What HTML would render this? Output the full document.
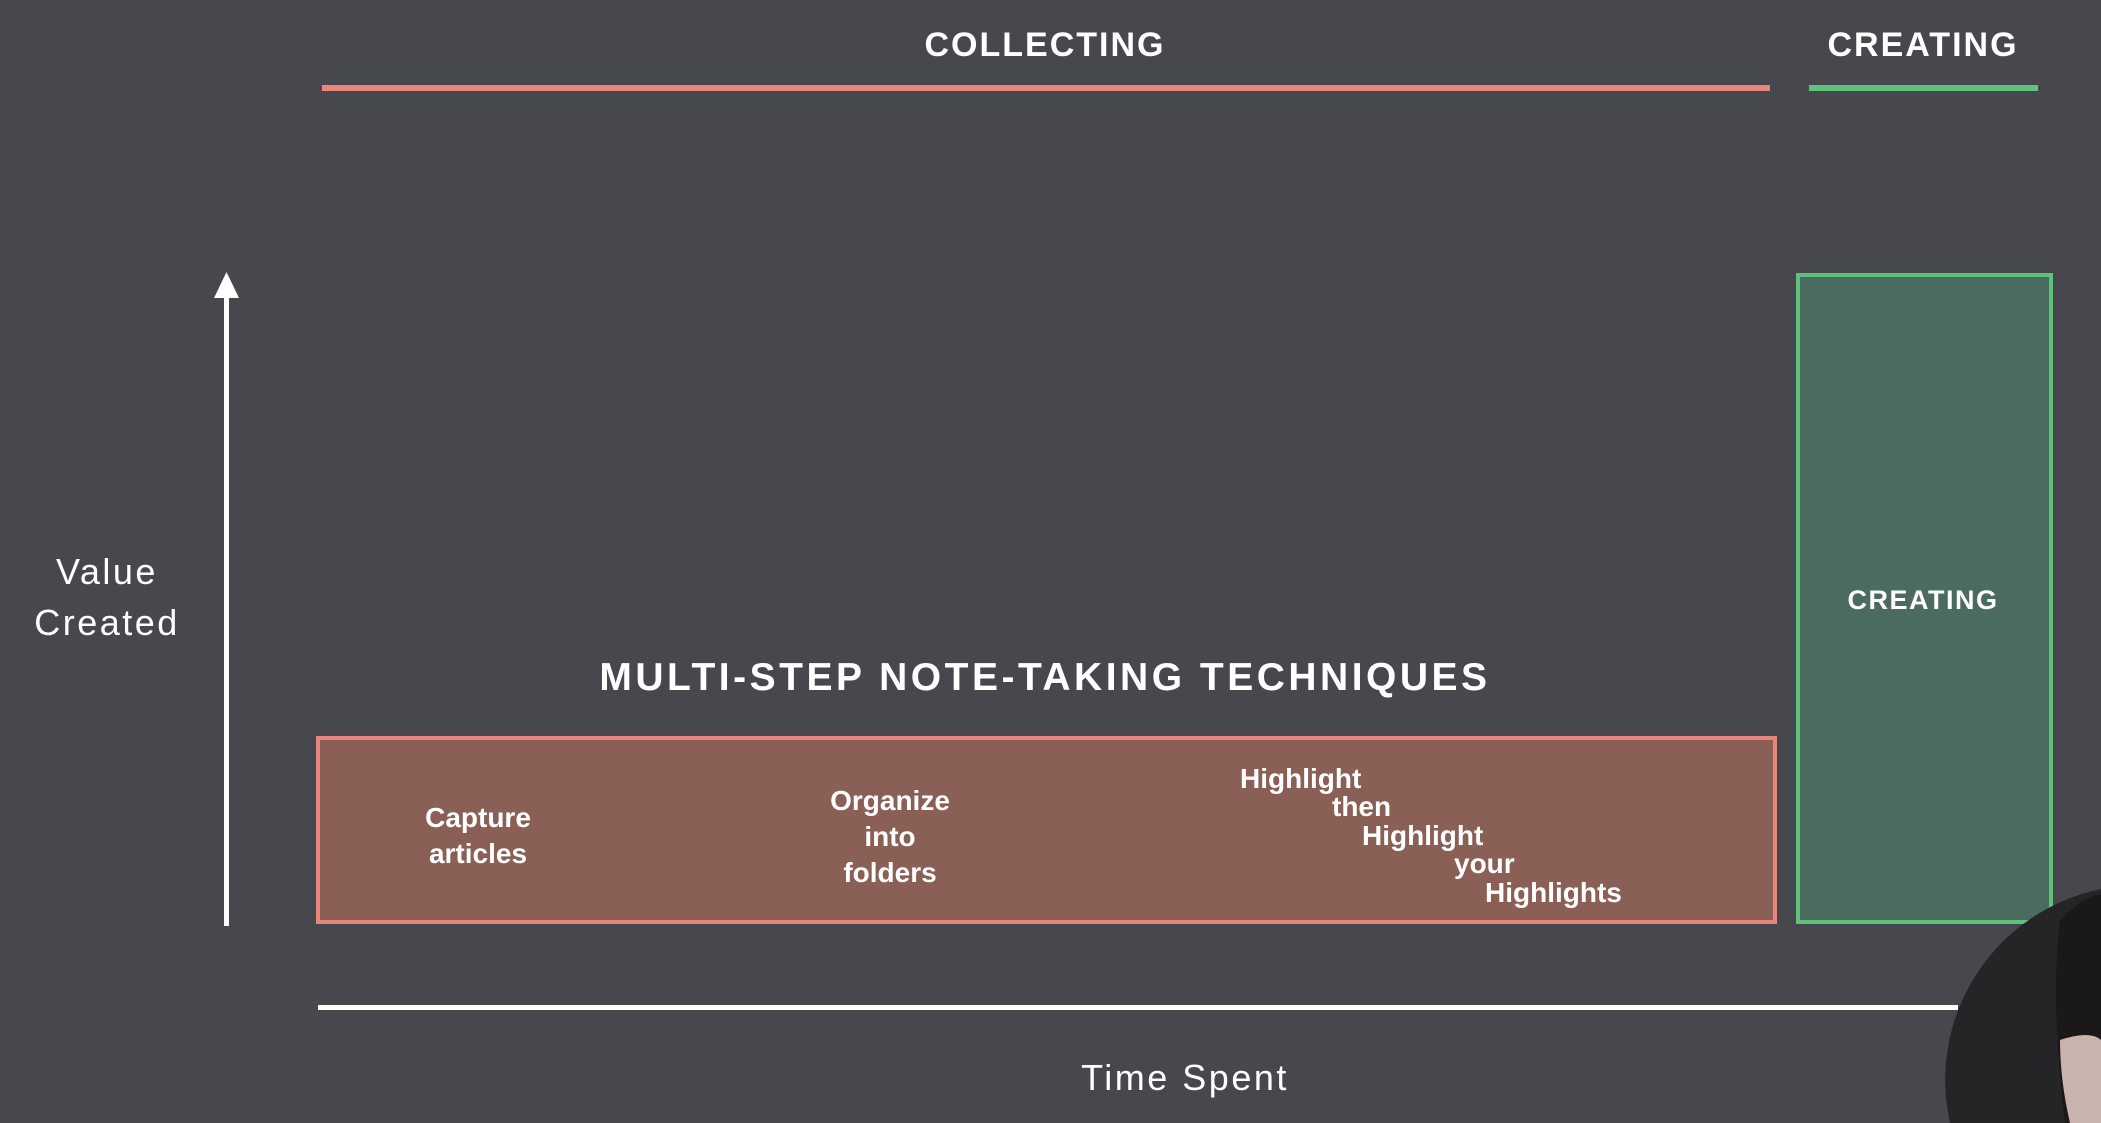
<!DOCTYPE html>
<html><head><meta charset="utf-8"><style>
html,body{margin:0;padding:0;background:#47484d;width:2101px;height:1123px;overflow:hidden;}
svg{display:block;}
</style></head><body>
<svg width="2101" height="1123" viewBox="0 0 2101 1123" xmlns="http://www.w3.org/2000/svg">
<rect width="2101" height="1123" fill="#47484d"/>
<g font-family="Liberation Sans, sans-serif" fill="#ffffff">
<text x="1045" y="56" font-size="34" font-weight="bold" text-anchor="middle" letter-spacing="2">COLLECTING</text>
<text x="1923" y="56" font-size="34" font-weight="bold" text-anchor="middle" letter-spacing="2">CREATING</text>
</g>
<rect x="322" y="85" width="1448" height="6" fill="#e8867b"/>
<rect x="1809" y="85" width="229" height="6" fill="#5dc27c"/>
<rect x="224" y="292" width="5" height="634" fill="#fff"/>
<polygon points="226.5,272 214,298 239,298" fill="#fff"/>
<g font-family="Liberation Sans, sans-serif" fill="#ffffff" font-size="36" text-anchor="middle" letter-spacing="2.5">
<text x="107" y="584">Value</text>
<text x="107" y="635">Created</text>
</g>
<rect x="1798" y="275" width="253" height="647" fill="#4a6b5e" stroke="#5dc27c" stroke-width="4"/>
<text x="1923" y="609" font-family="Liberation Sans, sans-serif" font-size="27" font-weight="bold" fill="#fff" text-anchor="middle" letter-spacing="1.5">CREATING</text>
<text x="1045" y="690" font-family="Liberation Sans, sans-serif" font-size="39" font-weight="bold" fill="#fff" text-anchor="middle" letter-spacing="3.5">MULTI-STEP NOTE-TAKING TECHNIQUES</text>
<rect x="318" y="738" width="1457" height="184" fill="#895f56" stroke="#e8867b" stroke-width="4"/>
<g font-family="Liberation Sans, sans-serif" fill="#ffffff" font-size="28" font-weight="bold">
<text x="478" y="827" text-anchor="middle">Capture</text>
<text x="478" y="863" text-anchor="middle">articles</text>
<text x="890" y="810" text-anchor="middle">Organize</text>
<text x="890" y="846" text-anchor="middle">into</text>
<text x="890" y="882" text-anchor="middle">folders</text>
<text x="1240" y="788">Highlight</text>
<text x="1332" y="816">then</text>
<text x="1362" y="845">Highlight</text>
<text x="1454" y="873">your</text>
<text x="1485" y="902">Highlights</text>
</g>
<rect x="318" y="1005" width="1640" height="5" fill="#fff"/>
<text x="1185" y="1090" font-family="Liberation Sans, sans-serif" font-size="36" fill="#fff" text-anchor="middle" letter-spacing="2.5">Time Spent</text>
<path d="M2101 889 A195 195 0 0 0 1950 1123 L2101 1123 Z" fill="#252426"/>
<path d="M2060 920 Q2090 892 2101 895 L2101 1123 L2065 1123 Q2050 1000 2060 920Z" fill="#1a1819"/>
<path d="M2060 1040 Q2090 1030 2101 1040 L2101 1123 L2070 1123 Q2060 1080 2060 1040Z" fill="#c9b3ad"/>
</svg>
</body></html>
